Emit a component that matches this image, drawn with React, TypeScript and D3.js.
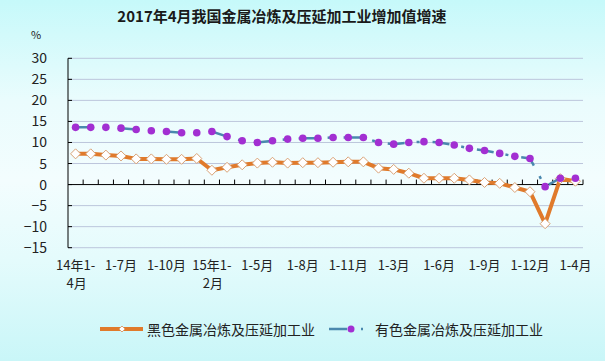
import React from 'react';
import * as d3 from 'd3';

const categories = [
  '14年1-4月', '1-5月', '1-6月', '1-7月', '1-8月', '1-9月', '1-10月', '1-11月', '1-12月',
  '15年1-2月', '1-3月', '1-4月', '1-5月', '1-6月', '1-7月', '1-8月', '1-9月', '1-10月', '1-11月', '1-12月',
  '16年1-2月', '1-3月', '1-4月', '1-5月', '1-6月', '1-7月', '1-8月', '1-9月', '1-10月', '1-11月', '1-12月',
  '17年1-2月', '1-3月', '1-4月',
];

const ferrous = [
  7.3, 7.3, 7.0, 6.8, 6.1, 6.1, 6.0, 6.0, 6.2,
  3.4, 4.1, 4.7, 5.1, 5.3, 5.1, 5.2, 5.2, 5.3, 5.4, 5.4,
  3.9, 3.6, 2.7, 1.5, 1.5, 1.5, 1.1, 0.5, 0.3, -0.7, -1.7,
  -9.3, 1.4, 0.8,
];

const nonferrous = [
  13.6, 13.6, 13.6, 13.4, 13.1, 12.8, 12.6, 12.3, 12.3,
  12.6, 11.4, 10.4, 10.0, 10.4, 10.8, 11.0, 11.0, 11.2, 11.2, 11.2,
  10.0, 9.6, 10.0, 10.2, 10.0, 9.4, 8.6, 8.1, 7.4, 6.7, 6.2,
  -0.5, 1.5, 1.5,
];

const yTicks = [30, 25, 20, 15, 10, 5, 0, -5, -10, -15];

const seriesNames = ['黑色金属冶炼及压延加工业', '有色金属冶炼及压延加工业'];
const title = '2017年4月我国金属冶炼及压延加工业增加值增速';

const W = 605;
const H = 361;
const left = 68;
const right = 583;
const top = 58.3;
const bottom = 247.7;

const FONT = '"Noto Sans CJK SC", "Noto Sans", sans-serif';

function labelLines(label: string): string[] {
  if (label.includes('年')) {
    const i = label.indexOf('-');
    return [label.slice(0, i + 1), label.slice(i + 1)];
  }
  return [label];
}

function Diamond({ x, y, r }: { x: number; y: number; r: number }) {
  return (
    <path
      d={`M${x},${y - r}L${x + r},${y}L${x},${y + r}L${x - r},${y}Z`}
      fill="#ffffff"
      stroke="#d9a276"
      strokeWidth={1}
    />
  );
}

export default function App() {
  const x = d3.scaleBand<number>().domain(d3.range(categories.length)).range([left, right]).padding(0);
  const y = d3.scaleLinear().domain([-15, 30]).range([bottom, top]);
  const cx = (i: number) => (x(i) as number) + x.bandwidth() / 2;

  const line = d3
    .line<number>()
    .x((_, i) => cx(i))
    .y((d) => y(d))
    .curve(d3.curveLinear);

  const boundaries = d3.range(1, categories.length + 1).map((i) => left + i * x.bandwidth());
  const shown = d3.range(0, categories.length, 3);
  const dash = '17,12,3,13';

  return (
    <svg width={W} height={H} style={{ position: 'absolute', left: 0, top: 0 }} fontFamily={FONT}>
      <defs>
        <linearGradient id="bg" x1="0" y1="0" x2="0" y2="1">
          <stop offset="0" stopColor="#c6f9fa" />
          <stop offset="0.28" stopColor="#eafcfd" />
          <stop offset="0.5" stopColor="#f3fdfe" />
          <stop offset="0.72" stopColor="#e4fbfc" />
          <stop offset="1" stopColor="#c9f6f8" />
        </linearGradient>
      </defs>
      <rect x={0} y={0} width={W} height={H} fill="url(#bg)" />

      <text x={282} y={22} textAnchor="middle" fontSize={15} fontWeight="bold" fill="#1a1a1a">
        {title}
      </text>
      <text x={36} y={39} textAnchor="middle" fontSize={11} fill="#222">%</text>

      {/* gridlines */}
      {yTicks.filter((t) => t !== 0).map((t) => (
        <line key={t} x1={left} x2={right} y1={y(t)} y2={y(t)} stroke="#bcc6dc" strokeWidth={1} />
      ))}

      {/* y axis */}
      <line x1={left} x2={left} y1={top} y2={bottom} stroke="#000" strokeWidth={1} />
      {yTicks.map((t) => (
        <g key={t}>
          <line x1={left} x2={left + 4} y1={y(t)} y2={y(t)} stroke="#000" />
          <text x={47} y={y(t) + 5} textAnchor="end" fontSize={14} fill="#222">
            {t < 0 ? `−${-t}` : t}
          </text>
        </g>
      ))}

      {/* x axis at 0 */}
      <line x1={left} x2={right} y1={y(0)} y2={y(0)} stroke="#000" strokeWidth={1} />
      {boundaries.map((b, i) => (
        <line key={i} x1={b} x2={b} y1={y(0)} y2={y(0) - 5} stroke="#000" />
      ))}

      {shown.map((i) => {
        const lines = labelLines(categories[i]);
        return (
          <text key={i} x={cx(i)} y={270} textAnchor="middle" fontSize={13} fill="#222">
            {lines.map((l, k) => (
              <tspan key={k} x={cx(i) + (k === 1 ? 1 : 0)} dy={k === 0 ? 0 : 18}>
                {l}
              </tspan>
            ))}
          </text>
        );
      })}

      {/* ferrous series */}
      <path d={line(ferrous) || ''} fill="none" stroke="#e07a2b" strokeWidth={4} strokeLinejoin="round" />
      {ferrous.map((v, i) => (
        <Diamond key={i} x={cx(i)} y={y(v)} r={5} />
      ))}

      {/* nonferrous series */}
      <path
        d={line(nonferrous) || ''}
        fill="none"
        stroke="#4a88ae"
        strokeWidth={2.5}
        strokeDasharray={dash}
      />
      {nonferrous.map((v, i) => (
        <circle key={i} cx={cx(i)} cy={y(v)} r={3.8} fill="#a22fd2" />
      ))}

      {/* legend */}
      <line x1={100} x2={143} y1={329} y2={329} stroke="#e07a2b" strokeWidth={4} />
      <Diamond x={122} y={329} r={3} />
      <text x={147} y={335} fontSize={14} fill="#222">{seriesNames[0]}</text>

      <line x1={329} x2={372} y1={329} y2={329} stroke="#4a88ae" strokeWidth={2.5} strokeDasharray="18,14,2,20" />
      <circle cx={351} cy={329} r={3.5} fill="#a22fd2" />
      <text x={375} y={335} fontSize={14} fill="#222">{seriesNames[1]}</text>
    </svg>
  );
}
